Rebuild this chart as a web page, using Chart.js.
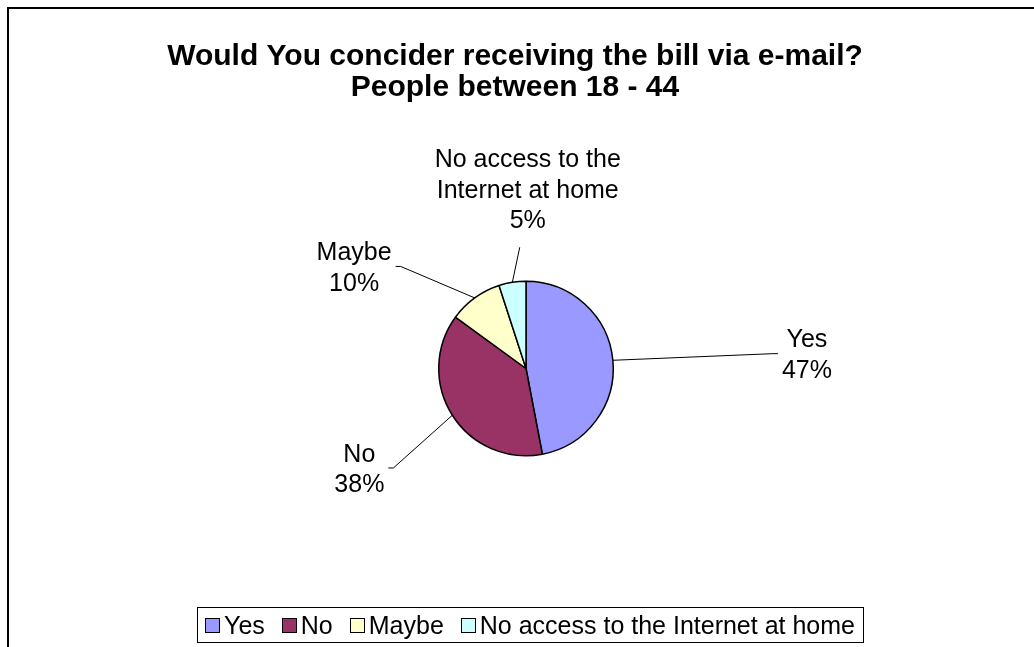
<!DOCTYPE html>
<html>
<head>
<meta charset="utf-8">
<script src="https://cdn.jsdelivr.net/npm/chart.js@4.4.0/dist/chart.umd.min.js"></script>
<style>
    html, body { margin: 0; padding: 0; background: #fff; }
</style>
</head>
<body>
<canvas id="pie" width="1034" height="647"></canvas>
<script>
// --- данные опроса ---
const titleLines = ['Would You concider receiving the bill via e-mail?', 'People between 18 - 44'];
const answers = ['Yes', 'No', 'Maybe', 'No access to the Internet at home'];
const shares = [47, 38, 10, 5];
// подписи на диаграмме переносятся как в оригинале
const labelLines = [['Yes'], ['No'], ['Maybe'], ['No access to the', 'Internet at home']];
const sliceColors = ['#9999ff', '#993366', '#ffffcc', '#ccffff'];
// где стоят подписи, в радиусах круга от центра
const labelOffsets = [[3.22, -0.17], [-1.91, 1.14], [-1.97, -1.17], [0.02, -2.06]];

const FONT = '"Liberation Sans", Arial, sans-serif';

const excelLook = {
    id: 'excelLook',
    afterDraw(chart) {
        const ctx = chart.ctx;
        ctx.save();

        // рамка вокруг области диаграммы
        ctx.strokeStyle = '#000';
        ctx.lineWidth = 2;
        ctx.strokeRect(8, 8, 1040, 660);

        // заголовок
        ctx.fillStyle = '#000';
        ctx.textAlign = 'center';
        ctx.textBaseline = 'alphabetic';
        ctx.font = 'bold 30px ' + FONT;
        titleLines.forEach((t, i) => ctx.fillText(t, 515, 65 + i * 31));

        // подписи долей и линии выноски
        const total = shares.reduce((a, b) => a + b, 0);
        const arcs = chart.getDatasetMeta(0).data;
        ctx.font = '25px ' + FONT;
        const lh = 30.5;
        arcs.forEach((arc, i) => {
            const p = arc.getProps(['x', 'y', 'startAngle', 'endAngle', 'outerRadius'], true);
            const mid = (p.startAngle + p.endAngle) / 2;
            const ex = p.x + p.outerRadius * Math.cos(mid);
            const ey = p.y + p.outerRadius * Math.sin(mid);

            const lines = labelLines[i].concat([Math.round(shares[i] / total * 100) + '%']);
            const cx = p.x + labelOffsets[i][0] * p.outerRadius;
            const cy = p.y + labelOffsets[i][1] * p.outerRadius;
            const w = Math.max(...lines.map(l => ctx.measureText(l).width));
            const n = lines.length;
            const top = cy - (n - 1) / 2 * lh - 10;
            const bottom = cy + (n - 1) / 2 * lh + 10;
            const left = cx - w / 2, right = cx + w / 2;

            ctx.strokeStyle = '#000';
            ctx.lineWidth = 1;
            ctx.beginPath();
            ctx.moveTo(ex, ey);
            if (Math.abs(cx - ex) > Math.abs(cy - ey)) {
                const sx = cx > ex ? left - 4 : right + 4;
                const stub = cx > ex ? -5 : 5;
                ctx.lineTo(sx + stub, cy);
                ctx.lineTo(sx, cy);
            } else {
                ctx.lineTo(cx - 8, cy < ey ? bottom + 18 : top - 18);
            }
            ctx.stroke();

            ctx.fillStyle = '#000';
            lines.forEach((l, k) => {
                ctx.fillText(l, cx, cy + (k - (n - 1) / 2) * lh + 9);
            });
        });

        // легенда внизу в рамке
        const sq = 14, gap = 5, spacing = 17, pad = 8;
        ctx.font = '25px ' + FONT;
        const widths = answers.map(a => ctx.measureText(a).width);
        const totalW = widths.reduce((a, b) => a + b, 0) + answers.length * (sq + gap) + (answers.length - 1) * spacing;
        const boxW = totalW + pad * 2;
        const boxL = 530 - boxW / 2;
        ctx.lineWidth = 1;
        ctx.strokeStyle = '#000';
        ctx.strokeRect(Math.round(boxL) + 0.5, 607.5, Math.round(boxW), 35);
        let x = boxL + pad;
        ctx.textAlign = 'left';
        answers.forEach((a, i) => {
            ctx.fillStyle = sliceColors[i];
            ctx.fillRect(Math.round(x) + 0.5, 618.5, sq, sq);
            ctx.strokeRect(Math.round(x) + 0.5, 618.5, sq, sq);
            ctx.fillStyle = '#000';
            ctx.fillText(a, x + sq + gap, 634);
            x += sq + gap + widths[i] + spacing;
        });

        ctx.restore();
    }
};

new Chart(document.getElementById('pie'), {
    type: 'pie',
    data: {
        labels: answers,
        datasets: [{
            data: shares,
            backgroundColor: sliceColors,
            borderColor: '#000',
            borderWidth: 1.5
        }]
    },
    options: {
        responsive: false,
        animation: false,
        events: [],
        layout: { padding: { top: 280, bottom: 190, left: 438, right: 420 } },
        plugins: {
            legend: { display: false },
            tooltip: { enabled: false },
            title: { display: false }
        }
    },
    plugins: [excelLook]
});
</script>
</body>
</html>
